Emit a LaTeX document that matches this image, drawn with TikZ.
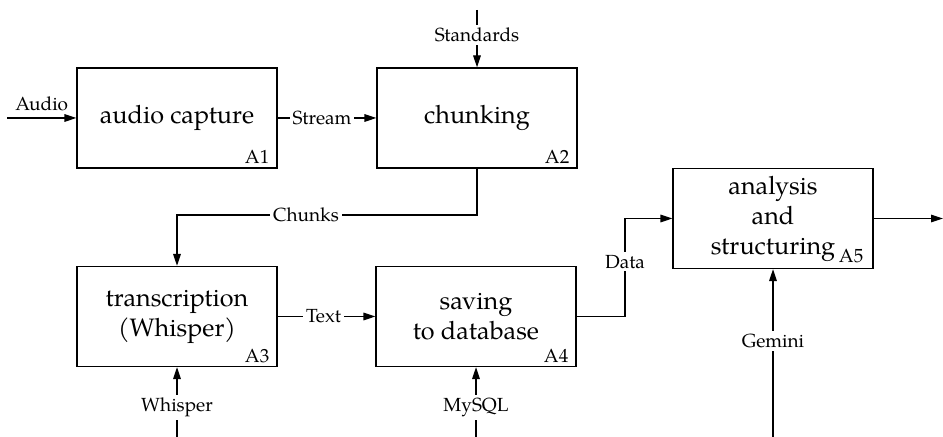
\documentclass[tikz,border=0pt]{standalone}
\usepackage{fontspec}
\setmainfont{TeX Gyre Pagella}
\usetikzlibrary{arrows.meta}
\begin{document}
\begin{tikzpicture}[x=0.5pt,y=-0.5pt,
  box/.style={draw, line width=0.65pt, minimum width=100pt, minimum height=50pt, inner sep=0pt,
    font=\fontsize{12.6}{15}\selectfont, align=center},
  tag/.style={font=\fontsize{9.5}{11}\selectfont, anchor=base east, inner sep=0pt},
  lbl/.style={font=\fontsize{9.5}{11}\selectfont, inner sep=1.5pt},
  lblw/.style={lbl, fill=white},
  arr/.style={line width=0.65pt, -{Triangle[length=6pt,width=3.8pt]}},
  ln/.style={line width=0.65pt}]
\useasboundingbox (0,0) rectangle (943,437);
% boxes
\node[box] (A1) at (177,118) {audio capture};
\node[box] (A2) at (477,118) {chunking};
\node[box] (A3) at (177,316.5) {transcription\\(Whisper)};
\node[box] (A4) at (476,316.5) {saving\\to database};
\node[box] (A5) at (773,218.5) {analysis\\and\\structuring};
% tags
\node[tag] (t1) at ([xshift=-4pt,yshift=2.5pt]A1.south east) {A1};
\node[tag] (t2) at ([xshift=-4pt,yshift=2.5pt]A2.south east) {A2};
\node[tag] (t3) at ([xshift=-4pt,yshift=2.5pt]A3.south east) {A3};
\node[tag] (t4) at ([xshift=-4pt,yshift=2.5pt]A4.south east) {A4};
\node[tag] (t5) at ([xshift=-5pt,yshift=3.5pt]A5.south east) {A5};
% free ends
\coordinate (audioin) at (7,118);
\coordinate (stdin) at (477,10);
\coordinate (ck) at (177,215);
\coordinate (whin) at (177,437);
\coordinate (myin) at (476,437);
\coordinate (dj) at (625,316.5);
\coordinate (gemin) at (773,437);
\coordinate (out) at (943,218.5);
% connectors
\draw[arr] (audioin) -- node[lbl, above, yshift=1.5pt] {Audio} (A1.west);
\draw[arr] (A1.east) -- node[lblw, pos=0.45] {Stream} (A2.west);
\draw[arr] (stdin) -- node[lblw, pos=0.43] {Standards} (A2.north);
\draw[arr] (A2.south) -- (A2.south |- ck) -- node[lblw, pos=0.57] {Chunks} (ck) -- (A3.north);
\draw[arr] (A3.east) -- node[lblw, pos=0.47] {Text} (A4.west);
\draw[arr] (whin) -- node[lblw, pos=0.42] {Whisper} (A3.south);
\draw[arr] (myin) -- node[lblw, pos=0.42] {MySQL} (A4.south);
\draw[arr] (A4.east) -- (dj) -- node[lblw, pos=0.56] {Data} (dj |- A5.west) -- (A5.west);
\draw[arr] (gemin) -- node[lblw, pos=0.57] {Gemini} (A5.south);
\draw[arr] (A5.east) -- (out);
\end{tikzpicture}
\end{document}
